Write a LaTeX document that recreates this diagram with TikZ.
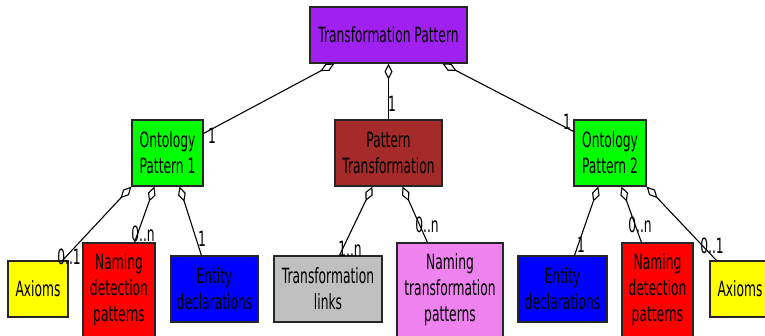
\documentclass[tikz,border=0pt]{standalone}
\usepackage{fontspec}
\setmainfont{DejaVu Sans}[FakeStretch=0.585]
\usetikzlibrary{arrows.meta,calc}
\definecolor{cpurple}{RGB}{160,32,240}
\definecolor{cgreen}{RGB}{0,255,0}
\definecolor{cbrown}{RGB}{165,42,42}
\definecolor{cyellow}{RGB}{255,255,0}
\definecolor{cred}{RGB}{255,0,0}
\definecolor{cblue}{RGB}{0,0,255}
\definecolor{cgray}{RGB}{192,192,192}
\definecolor{cviolet}{RGB}{238,130,238}
\begin{document}
\begin{tikzpicture}[x=1pt,y=-1pt,
  every node/.style={font=\fontsize{21}{26}\selectfont},
  box/.style={draw=black!85, line width=1.1pt, inner sep=0pt, align=center, text=black},
  mult/.style={inner sep=0pt, text=black},
  agg/.style={line width=1.1pt, -{Diamond[fill=white,length=16pt,width=8pt]}}]
\useasboundingbox (0,0) rectangle (765,335);
\clip (0,0) rectangle (765,335);

% boxes
\node[box, fill=cpurple, minimum width=157pt, minimum height=56pt] (tp) at (388.5,35) {Transformation Pattern};
\node[box, fill=cgreen, minimum width=71pt, minimum height=66pt] (op1) at (167.5,153) {Ontology\\Pattern 1};
\node[box, fill=cbrown, minimum width=107pt, minimum height=66pt] (pt) at (388.5,153) {Pattern\\Transformation};
\node[box, fill=cgreen, minimum width=72pt, minimum height=66pt] (op2) at (610,153) {Ontology\\Pattern 2};

\node[box, fill=cyellow, minimum width=60pt, minimum height=56pt] (ax1) at (38,289) {Axioms};
\node[box, fill=cred, minimum width=72pt, minimum height=94pt] (nd1) at (119,290) {Naming\\detection\\patterns};
\node[box, fill=cblue, minimum width=87pt, minimum height=66pt] (ed1) at (214.5,289) {Entity\\declarations};
\node[box, fill=cgray, minimum width=108pt, minimum height=66pt] (tl) at (328,289) {Transformation\\links};
\node[box, fill=cviolet, minimum width=106pt, minimum height=94pt] (ntp) at (450,290) {Naming\\transformation\\patterns};
\node[box, fill=cblue, minimum width=89pt, minimum height=66pt] (ed2) at (562.5,289) {Entity\\declarations};
\node[box, fill=cred, minimum width=71pt, minimum height=94pt] (nd2) at (657.5,290) {Naming\\detection\\patterns};
\node[box, fill=cyellow, minimum width=60pt, minimum height=56pt] (ax2) at (740,289) {Axioms};

% aggregation links (diamond on the whole side)
\draw[agg] ($(op1.north east)+(0,14)$) -- ($(tp.south west)+(25,0)$);
\draw[agg] (pt.north) -- (tp.south);
\draw[agg] ($(op2.north west)+(0,12)$) -- ($(tp.south west)+(133,0)$);

\draw[agg] ($(ax1.north west)+(55,0)$) -- (op1.south west);
\draw[agg] ($(nd1.north west)+(52,0)$) -- ($(op1.south west)+(23,0)$);
\draw[agg] ($(ed1.north west)+(31,0)$) -- ($(op1.south west)+(48,0)$);

\draw[agg] ($(tl.north west)+(66,0)$) -- ($(pt.south west)+(38,0)$);
\draw[agg] ($(ntp.north west)+(31,0)$) -- ($(pt.south west)+(68,0)$);

\draw[agg] ($(ed2.north west)+(57,0)$) -- ($(op2.south west)+(25,0)$);
\draw[agg] ($(nd2.north west)+(20,0)$) -- ($(op2.south west)+(48,0)$);
\draw[agg] ($(ax2.north west)+(7,0)$) -- (op2.south east);

% multiplicities
\node[mult] (m1) at (212,136) {1};
\node[mult] (m2) at (392,104) {1};
\node[mult] (m3) at (567,122) {1};
\node[mult] (m4) at (69,257) {0..1};
\node[mult] (m5) at (143,234) {0..n};
\node[mult] (m6) at (202,239) {1};
\node[mult] (m7) at (350,249) {1..n};
\node[mult] (m8) at (427,225) {0..n};
\node[mult] (m9) at (581,245) {1};
\node[mult] (m10) at (640,225) {0..n};
\node[mult] (m11) at (712,246) {0..1};
\end{tikzpicture}
\end{document}
